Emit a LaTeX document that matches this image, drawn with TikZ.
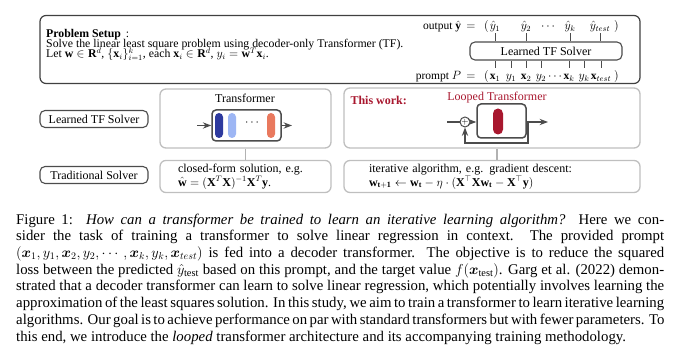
\documentclass[tikz,border=0pt]{standalone}
\usepackage{fontspec}
\setmainfont{Liberation Serif}
\usepackage{amsmath, amssymb, bm}
\usetikzlibrary{positioning,arrows.meta}
\definecolor{barDark}{HTML}{2E3A9E}
\definecolor{barLight}{HTML}{9DB6F4}
\definecolor{barOrange}{HTML}{E9795E}
\definecolor{loopRed}{HTML}{A8172E}
\newcommand{\capline}[1]{\makebox[648pt][s]{#1}}

\begin{document}
\begin{tikzpicture}[
  x=1pt, y=-1pt, >=Stealth, font=\fontsize{12}{13}\selectfont,
  outerBox/.style={draw=black!75, line width=1.2pt, rounded corners=6pt},
  solverBox/.style={draw=black!70, line width=1.1pt, rounded corners=5pt,
                    minimum width=152pt, minimum height=18pt},
  labelBox/.style={draw=black!70, line width=1.1pt, rounded corners=5pt,
                   minimum width=108pt, minimum height=17pt},
  softBox/.style={draw=black!25, line width=1.3pt, rounded corners=6pt},
  coreBox/.style={draw=black!70, line width=1.5pt, rounded corners=4pt, fill=white},
  bar/.style={rounded corners=4pt, minimum width=8pt, minimum height=25pt, inner sep=0pt},
  setupLine/.style={anchor=base west, inner sep=0pt, font=\fontsize{11.8}{13}\selectfont},
  rowItem/.style={inner sep=0.5pt, text height=11.5pt, text depth=2.5pt, anchor=base,
                  font=\fontsize{11.5}{13}\selectfont},
  rowLbl/.style={inner sep=0pt, font=\fontsize{11.5}{13}\selectfont},
  tick/.style={draw=black!70, line width=0.8pt},
  arr/.style={->, draw=black!70, line width=1.2pt},
  wire/.style={draw=black!70, line width=1.2pt},
  link/.style={draw=black!30, line width=1.2pt},
]
\useasboundingbox (0,0) rectangle (680,352);

% problem setup
\node[outerBox, minimum width=600pt, minimum height=68pt] (setup) at (340,49.5) {};
\node[setupLine] (setupA) at (46,37.5) {\textbf{Problem Setup} \,:};
\node[setupLine] (setupB) at (46,47.5)
  {Solve the linear least square problem using decoder-only Transformer (TF).};
\node[setupLine] (setupC) at (46,58)
  {Let $\mathbf{w}\in\mathbf{R}^d$, $\{\mathbf{x}_i\}_{i=1}^{k}$, each $\mathbf{x}_i\in\mathbf{R}^d$, $y_i=\mathbf{w}^T\mathbf{x}_i$.};

\node[solverBox] (solver) at (546,51) {Learned TF Solver};

\node[rowLbl, anchor=base east] (outLbl) at (489,30) {output $\hat{\mathbf{y}}\,=\;\,($};
\node[rowItem] (oy1) at (495,30) {$\hat{y}_1$};
\node[rowItem] (oy2) at (526,30) {$\hat{y}_2$};
\node[rowItem] (oDots) at (549,30) {$\cdots$};
\node[rowItem] (oyk) at (570,30) {$\hat{y}_k$};
\node[rowItem] (oyt) at (600,30) {$\hat{y}_{test}$};
\node[rowLbl, anchor=base west] (outEnd) at (614,30) {$)$};

\node[rowLbl, anchor=base east] (inLbl) at (489,80) {prompt $P\,=\;\,($};
\node[rowItem] (px1) at (495,80) {$\mathbf{x}_1$};
\node[rowItem] (py1) at (511,80) {$y_1$};
\node[rowItem] (px2) at (526,80) {$\mathbf{x}_2$};
\node[rowItem] (py2) at (541,80) {$y_2$};
\node[rowItem] (pDots) at (556,80) {$\cdots$};
\node[rowItem] (pxk) at (569,80) {$\mathbf{x}_k$};
\node[rowItem] (pyk) at (584,80) {$y_k$};
\node[rowItem] (pxt) at (601,80) {$\mathbf{x}_{test}$};
\node[rowLbl, anchor=base west] (inEnd) at (614,80) {$)$};

\foreach \n in {oy1,oy2,oyk,oyt}
  \draw[tick] (\n.south) -- (\n.south |- solver.north);
\foreach \n in {px1,py1,px2,py2,pxk,pyk,pxt}
  \draw[tick] (solver.south -| \n) -- (\n.north);

% left labels
\node[labelBox] (lblTF) at (94,119) {Learned TF Solver};
\node[labelBox] (lblTrad) at (94,175) {Traditional Solver};

% transformer
\node[softBox, minimum width=171pt, minimum height=59pt] (tfBox) at (245.5,118.5) {};
\node (tfTitle) at (245,98) {Transformer};
\node[coreBox, minimum width=69pt, minimum height=31pt] (tfCore) at (246.5,125.5) {};
\node[bar, fill=barDark] (bar1) at (219,125.5) {};
\node[bar, fill=barLight] (bar2) at (232,125.5) {};
\node (tfDots) at (253,123) {$\cdots$};
\node[bar, fill=barOrange] (bar3) at (271,125.5) {};
\coordinate (tfIn) at (197,125.5);
\coordinate (tfOut) at (292,125.5);
\draw[arr] (tfIn) -- (tfCore.west);
\draw[arr] (tfCore.east) -- (tfOut);

\node[softBox, minimum width=171pt, minimum height=29pt, text width=135pt,
      align=left, font=\fontsize{12}{14}\selectfont] (cfBox) at (245.5,176.5)
  {closed-form solution, e.g.\\
   $\hat{\mathbf{w}}=(\mathbf{X}^T\mathbf{X})^{-1}\mathbf{X}^T\mathbf{y}$.};
\draw[link] (tfBox.south) -- (cfBox.north);

% looped transformer
\node[softBox, minimum width=296pt, minimum height=60pt] (twBox) at (492,118) {};
\node[anchor=west, text=loopRed, font=\fontsize{12}{13}\bfseries] (twLbl) at (347,100) {This work:};
\node[text=loopRed] (lpTitle) at (497,98) {Looped Transformer};
\node[coreBox, minimum width=49pt, minimum height=34pt] (lpCore) at (501.5,121) {};
\node[fill=loopRed, rounded corners=5pt, minimum width=10pt, minimum height=26pt,
      inner sep=0pt] (lpBar) at (498,121.5) {};
\node[circle, draw=black!70, line width=1pt, inner sep=0pt, minimum size=10pt,
      font=\small] (plus) at (465,122) {$+$};
\coordinate (lpIn) at (447,122);
\coordinate (lpOut) at (548,122);
\coordinate (lpBr) at (528,122);
\draw[wire] (lpIn) -- (plus.west);
\draw[arr] (plus.east) -- (lpCore.west |- plus);
\draw[arr] (lpCore.east |- plus) -- (lpOut);
\draw[arr] (lpBr) -- (lpBr |- 0,143) -| (plus.south);

\node[softBox, minimum width=296pt, minimum height=29pt, text width=246pt,
      align=left, font=\fontsize{12}{14}\selectfont] (itBox) at (492,176.5)
  {iterative algorithm, e.g. gradient descent:\\
   $\mathbf{w}_{\mathbf{t+1}}\leftarrow\mathbf{w}_{\mathbf{t}}-\eta\cdot(\mathbf{X}^{\top}\mathbf{X}\mathbf{w}_{\mathbf{t}}-\mathbf{X}^{\top}\mathbf{y})$};
\draw[link] ([xshift=5pt]twBox.south) -- ([xshift=5pt]itBox.north);

% caption
\node[anchor=north west, inner sep=0pt, align=left,
      font=\fontsize{14.8}{16.7}\selectfont] (caption) at (16,213.5)
  {\capline{Figure 1:\ \ \textit{How can a transformer be trained to learn an iterative learning algorithm?}\ \ Here we con-}\\
   \capline{sider the task of training a transformer to solve linear regression in context.\ \ The provided prompt}\\
   \capline{$(\bm{x}_1,y_1,\bm{x}_2,y_2,\cdots,\bm{x}_k,y_k,\bm{x}_{test})$ is fed into a decoder transformer. The objective is to reduce the squared}\\
   \capline{loss between the predicted $\hat{y}_{\text{test}}$ based on this prompt, and the target value $f(\bm{x}_{\text{test}})$. Garg et al. (2022) demon-}\\
   \capline{strated that a decoder transformer can learn to solve linear regression, which potentially involves learning the}\\
   \capline{approximation of the least squares solution. In this study, we aim to train a transformer to learn iterative learning}\\
   \capline{algorithms. Our goal is to achieve performance on par with standard transformers but with fewer parameters. To}\\
   this end, we introduce the \textit{looped} transformer architecture and its accompanying training methodology.};
\end{tikzpicture}
\end{document}
